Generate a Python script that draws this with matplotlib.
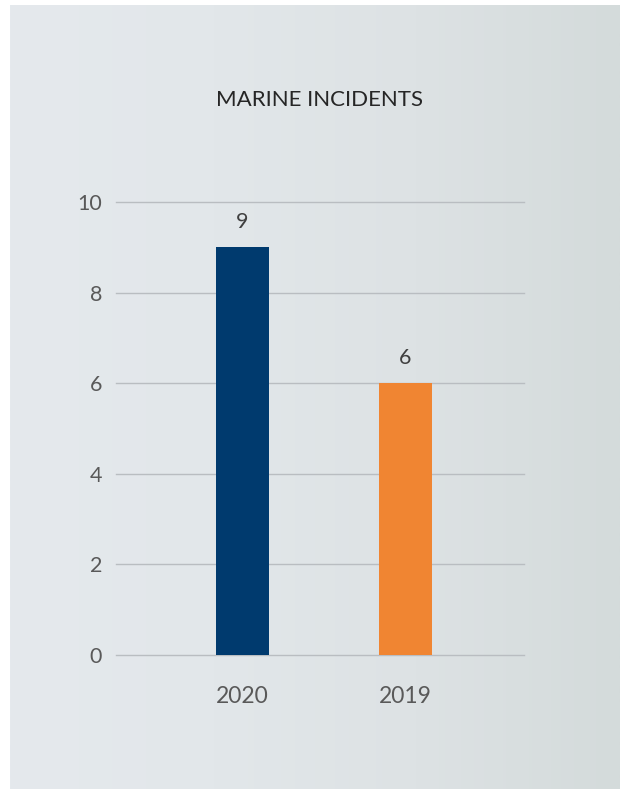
import matplotlib.pyplot as plt
import numpy as np
from matplotlib.colors import LinearSegmentedColormap

years = ["2020", "2019"]
incidents = [9, 6]
bar_colors = ["#003a6e", "#f08532"]
yticks = [0, 2, 4, 6, 8, 10]

plt.rcParams['font.family'] = ['Lato', 'DejaVu Sans']

W, H = 620, 789
fig = plt.figure(figsize=(W / 100, H / 100), dpi=100)
fig.patch.set_facecolor("white")

# background panel with a soft horizontal gradient
bg = fig.add_axes([10 / W, 0, 1 - 10 / W, 1 - 5 / H])
bg.set_axis_off()
cmap = LinearSegmentedColormap.from_list(
    "panel", ["#e5e9ed", "#e2e7ea", "#dde2e4", "#d4dbdb"])
grad = np.linspace(0, 1, 256).reshape(1, -1)
bg.imshow(grad, aspect="auto", cmap=cmap, extent=[0, 1, 0, 1])
bg.set_xlim(0, 1)
bg.set_ylim(0, 1)

# plot area: x 116..524 px, y0 at 655 px, y10 at 202 px
left, right = 116, 524
y0, y10 = 655, 202
ax = fig.add_axes([left / W, 1 - y0 / H, (right - left) / W, (y0 - y10) / H])
ax.patch.set_alpha(0)

x = np.arange(len(years))
bars = ax.bar(x, incidents, width=0.325, color=bar_colors, zorder=3)
ax.set_xlim(-0.776, 1.727)
ax.set_ylim(0, 10)
ax.set_yticks(yticks)
ax.set_xticks(x)
ax.set_xticklabels(years)

for spine in ax.spines.values():
    spine.set_visible(False)
ax.yaxis.grid(True, color="#b9bdc1", linewidth=1.0, zorder=0)
ax.tick_params(axis="both", length=0, labelcolor="#595959")
ax.tick_params(axis="y", labelsize=15.5, pad=10)
ax.tick_params(axis="x", labelsize=16.5, pad=22)
for gl in ax.get_ygridlines():
    gl.set_clip_on(False)

for b, v in zip(bars, incidents):
    ax.text(b.get_x() + b.get_width() / 2, v + 0.33, str(v),
            ha="center", va="bottom", fontsize=15.5, color="#404040")

fig.text(320 / W, 1 - 100 / H, "MARINE INCIDENTS", ha="center", va="center",
         fontsize=16, color="#262626")

fig.savefig("out.png", dpi=100)
